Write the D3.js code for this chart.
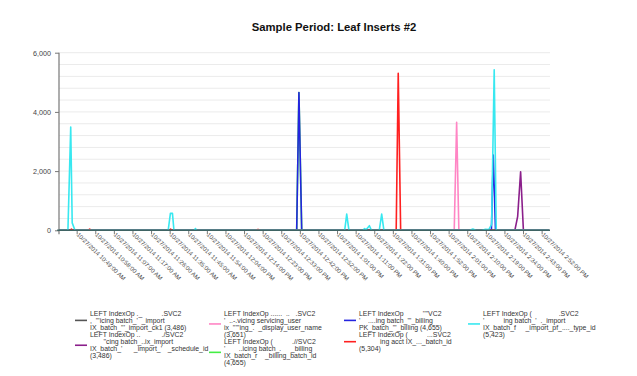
<!DOCTYPE html>
<meta charset="utf-8">
<script src="https://d3js.org/d3.v7.min.js"></script>
<style>
	body{
		margin:0;
		background:#fff;
		font-family: Arial, 'Liberation Sans', sans-serif;
	}
	.legendText{
		white-space:pre;
	}
</style>
<div id="chart"></div>
<script>

// tick labels on the category axis (one every 9 samples)
var tickLabels = ["10:49:00 AM","10:58:00 AM","11:07:00 AM","11:17:00 AM","11:26:00 AM","11:35:00 AM",
	"11:45:00 AM","11:54:00 AM","12:04:00 PM","12:14:00 PM","12:23:00 PM","12:33:00 PM","12:42:00 PM",
	"12:52:00 PM","1:01:00 PM","1:11:00 PM","1:22:00 PM","1:31:00 PM","1:40:00 PM","1:52:00 PM",
	"2:01:00 PM","2:10:00 PM","2:19:00 PM","2:34:00 PM","2:43:00 PM","2:52:00 PM"]
var datePrefix = "10/27/2014 "

var yTicks = [0,2000,4000,6000]

// series points: [position in tick units, value]
var graySeries = [[-0.95,0],[25.4,0]]
var purpleSeries = [[-0.95,0],[23.56,0],[23.71,460],[23.87,1976],[24.02,0],[25.4,0]]
var pinkSeries = [[-0.95,0],[20.3,0],[20.43,3651],[20.55,0],[25.4,0]]
var greenSeries = [[-0.95,0],[11.83,0],[11.95,4655],[12.1,0],[25.4,0]]
var blueSeries = [[-0.95,0],[11.83,0],[11.95,4655],[12.1,0],[22.3,0],[22.4,2540],[22.52,0],[25.4,0]]
var redSeries = [[-0.95,0],[-0.35,0],[-0.28,40],[-0.2,0],[0.6,0],[0.7,40],[0.8,0],[4.98,0],[5.05,40],[5.12,0],
	[9.6,0],[9.75,30],[9.9,0],[17.18,0],[17.29,5304],[17.42,0],[25.4,0]]
var cyanSeries = [[-0.95,0],[-0.47,0],[-0.32,3486],[-0.24,250],[-0.09,0],[4.92,0],[5.04,573],[5.15,573],[5.23,0],
	[6.33,0],[6.39,60],[6.44,0],[14.41,0],[14.52,545],[14.64,0],[15.4,0],[15.48,60],[15.56,20],[15.74,155],[15.85,0],
	[16.27,0],[16.4,550],[16.52,0],[21.15,0],[21.3,45],[21.46,0],[21.78,0],[21.95,30],[22.16,25],[22.31,200],
	[22.45,5423],[22.56,0],[25.4,0]]

var seriesColors = ["#555555","#8b1f8b","#ff85c4","#44ee44","#2424e0","#ff2020","#38e8f0"]
var seriesData = [graySeries,purpleSeries,pinkSeries,greenSeries,blueSeries,redSeries,cyanSeries]

var legendLines = [
	["LEFT IndexOp ._          .SVC2",",  '''icing batch_'  _import","IX_batch_'''_import_ck1 (3,486)"],
	["LEFT IndexOp ..           ./SVC2","       ''cing batch_..ix_import","IX_batch_'      _import_'   _schedule_id","(3,486)"],
	["LEFT IndexOp ......  ..   .SVC2","'  ..-.vicing servicing_user","ix_'''''ing_.  _display_user_name","(3,651)"],
	["LEFT IndexOp (          .//SVC2","'       ..icing batch_.     _billing","IX_batch_r    _billing_batch_id","(4,655)"],
	["LEFT IndexOp          ''''VC2","'    ....ing batch_'''_billing","PK_batch_'''_billing (4,655)"],
	["LEFT IndexOp (          ...SVC2","           ing acct IX_..._batch_id","(5,304)"],
	["LEFT IndexOp (              .SVC2","'          ing batch_'  ._import","IX_batch_f     _import_pf_...._type_id","(5,423)"]
]
// legend column / row for each series
var legendCol = [0,0,1,1,2,2,3]
var legendRow = [0,1,0,1,0,1,0]

var w = 637
var h = 376
var svg = d3.select("#chart").append("svg").attr("width",w).attr("height",h)

var x = d3.scaleLinear().domain([-0.95,25.45]).range([59,550])
var y = d3.scaleLinear().domain([0,6000]).range([230.3,52.7])

svg.append("text").text("Sample Period: Leaf Inserts #2")
	.attr("x",334).attr("y",31)
	.attr("text-anchor","middle")
	.style("font-size","11.3px").style("font-weight","bold").attr("fill","#111")

// light grid
svg.append("g").selectAll("line").data(d3.range(400,6001,400)).join("line")
	.attr("x1",x(-0.95)).attr("x2",x(25.45))
	.attr("y1",function(d){return y(d)}).attr("y2",function(d){return y(d)})
	.attr("stroke","#ebebeb").attr("stroke-width",1)

// lines
var line = d3.line().x(function(d){return x(d[0])}).y(function(d){return y(d[1])})
svg.append("g").selectAll("path").data(seriesData).join("path")
	.attr("d",line)
	.attr("fill","none")
	.attr("stroke",function(d,i){return seriesColors[i]})
	.attr("stroke-width",1.6)
	.attr("stroke-linejoin","round")

// y axis
var yAxis = svg.append("g").attr("transform","translate("+x(-0.95)+",0)")
	.call(d3.axisLeft(y).tickValues(yTicks).tickSize(4).tickFormat(d3.format(",")))
yAxis.select(".domain").remove()
yAxis.selectAll("line").attr("stroke","#777")
yAxis.selectAll("text").attr("fill","#444").style("font-size","7.2px").style("font-family","Arial, 'Liberation Sans', sans-serif")
	.attr("x",-8)
svg.append("line").attr("x1",x(-0.95)).attr("x2",x(-0.95)).attr("y1",y(6000)).attr("y2",y(0)+4)
	.attr("stroke","#777").attr("stroke-width",1.2)

// x axis
var xAxis = svg.append("g").attr("transform","translate(0,"+y(0)+")")
	.call(d3.axisBottom(x).tickValues(d3.range(tickLabels.length)).tickSize(4)
		.tickFormat(function(d){return datePrefix+tickLabels[d]}))
xAxis.select(".domain").remove()
xAxis.selectAll("line").attr("stroke","#777")
xAxis.selectAll("text")
	.attr("fill","#444").style("font-size","6px").style("font-family","Arial, 'Liberation Sans', sans-serif")
	.attr("text-anchor","start")
	.attr("dy",null).attr("y",0)
	.attr("transform","translate(-1,5) rotate(44)")
svg.append("line").attr("x1",x(-1.05)).attr("x2",x(25.45)).attr("y1",y(0)).attr("y2",y(0))
	.attr("stroke","#3f6464").attr("stroke-width",1.5)

// legend
var colText = [90,224,359,483]
var lineH = 7.1
var legend = svg.append("g")
legendLines.forEach(function(lines,i){
	var top = 313.3
	if(legendRow[i]==1){
		top = 313.3 + legendLines[i-1].length*lineH
	}
	var tx = colText[legendCol[i]]
	var midY = top + (lines.length-1)*lineH/2
	legend.append("line").attr("x1",tx-15).attr("x2",tx-3).attr("y1",midY).attr("y2",midY)
		.attr("stroke",seriesColors[i]).attr("stroke-width",1.6)
	legend.selectAll(".lt"+i).data(lines).enter().append("text")
		.attr("class","legendText")
		.attr("x",tx).attr("y",function(d,j){return top + j*lineH + 2.3})
		.style("font-size","6.9px").attr("fill","#333")
		.text(function(d){return d})
})

</script>
